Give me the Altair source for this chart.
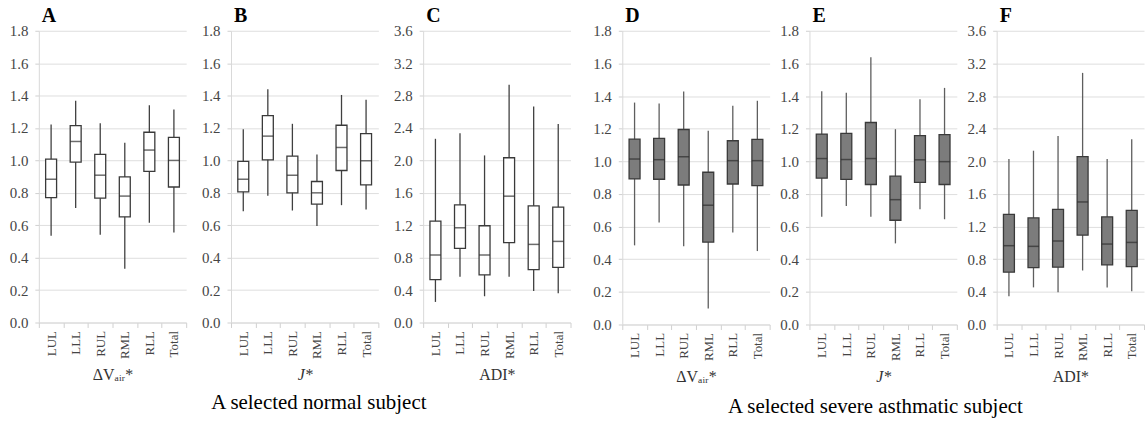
import altair as alt
import pandas as pd

LOBES = ["LUL", "LLL", "RUL", "RML", "RLL", "Total"]

# Y-axis tick values
TICKS_LOW = [0.0, 0.2, 0.4, 0.6, 0.8, 1.0, 1.2, 1.4, 1.6, 1.8]
TICKS_HIGH = [0.0, 0.4, 0.8, 1.2, 1.6, 2.0, 2.4, 2.8, 3.2, 3.6]

# --- A selected normal subject ---
# A: ΔVair*
A_MIN = [0.535, 0.706, 0.542, 0.332, 0.615, 0.556]
A_Q1 = [0.771, 0.990, 0.767, 0.652, 0.932, 0.836]
A_MED = [0.884, 1.117, 0.909, 0.780, 1.064, 1.000]
A_Q3 = [1.008, 1.215, 1.037, 0.898, 1.174, 1.142]
A_MAX = [1.222, 1.369, 1.230, 1.109, 1.340, 1.314]

# B: J*
B_MIN = [0.687, 0.782, 0.691, 0.595, 0.724, 0.697]
B_Q1 = [0.806, 1.004, 0.800, 0.730, 0.938, 0.849]
B_MED = [0.884, 1.150, 0.909, 0.800, 1.080, 0.998]
B_Q3 = [0.994, 1.277, 1.027, 0.870, 1.217, 1.166]
B_MAX = [1.193, 1.439, 1.226, 1.037, 1.404, 1.375]

# C: ADI*
C_MIN = [0.254, 0.566, 0.324, 0.566, 0.390, 0.361]
C_Q1 = [0.529, 0.915, 0.587, 0.985, 0.652, 0.681]
C_MED = [0.833, 1.169, 0.833, 1.559, 0.964, 1.001]
C_Q3 = [1.251, 1.452, 1.194, 2.033, 1.440, 1.424]
C_MAX = [2.267, 2.336, 2.062, 2.935, 2.665, 2.451]

# --- A selected severe asthmatic subject ---
# D: ΔVair*
D_MIN = [0.485, 0.625, 0.479, 0.098, 0.564, 0.450]
D_Q1 = [0.892, 0.890, 0.855, 0.505, 0.861, 0.851]
D_MED = [1.014, 1.010, 1.028, 0.731, 1.004, 1.004]
D_Q3 = [1.136, 1.140, 1.195, 0.933, 1.126, 1.134]
D_MAX = [1.360, 1.354, 1.428, 1.187, 1.340, 1.371]

# E: J*
E_MIN = [0.660, 0.726, 0.660, 0.497, 0.706, 0.645]
E_Q1 = [0.897, 0.889, 0.858, 0.639, 0.871, 0.858]
E_MED = [1.017, 1.011, 1.017, 0.765, 1.009, 0.998]
E_Q3 = [1.167, 1.171, 1.238, 0.909, 1.157, 1.163]
E_MAX = [1.430, 1.420, 1.638, 1.197, 1.380, 1.450]

# F: ADI*
F_MIN = [0.345, 0.455, 0.394, 0.662, 0.455, 0.406]
F_Q1 = [0.641, 0.698, 0.702, 1.096, 0.731, 0.710]
F_MED = [0.966, 0.958, 1.023, 1.502, 0.986, 1.006]
F_Q3 = [1.351, 1.307, 1.412, 2.058, 1.319, 1.400]
F_MAX = [2.029, 2.130, 2.310, 3.084, 2.029, 2.270]

SERIF = "Liberation Serif, Times New Roman, serif"


def panel(letter, lo, q1, med, q3, hi, axis_title, ticks, fill, whisker,
          height, title_style="normal"):
    df = pd.DataFrame({"lobe": LOBES, "lo": lo, "q1": q1, "med": med,
                       "q3": q3, "hi": hi})
    x = alt.X("lobe:N", sort=LOBES,
              scale=alt.Scale(paddingInner=0, paddingOuter=0),
              axis=alt.Axis(title=axis_title, labelAngle=270, tickBand="extent",
                            titleFontStyle=title_style))
    yscale = alt.Scale(domain=[0, ticks[-1]], nice=False)
    yaxis = alt.Axis(values=ticks, format=".1f", title=None)

    base = alt.Chart(df)
    whiskers = base.mark_rule(color=whisker, strokeWidth=1.3).encode(
        x=x, y=alt.Y("lo:Q", scale=yscale, axis=yaxis, title=None),
        y2="hi:Q")
    boxes = base.mark_bar(size=11, fill=fill, stroke="#3a3a3a",
                          strokeWidth=1.3).encode(
        x=x, y=alt.Y("q1:Q", scale=yscale, axis=yaxis, title=None),
        y2="q3:Q")
    medians = base.mark_tick(size=11, thickness=1.5, color="#2e2e2e").encode(
        x=x, y=alt.Y("med:Q", scale=yscale, axis=yaxis, title=None))

    return alt.layer(whiskers, boxes, medians).properties(
        width=148, height=height,
        title=alt.TitleParams(letter, anchor="start", frame="group", dx=3,
                              offset=-2, fontSize=20, fontWeight="bold",
                              font=SERIF, color="black"))


DV_TITLE = "ΔVₐᵢᵣ*"
J_TITLE = "J*"
ADI_TITLE = "ADI*"

NORMAL_FILL, NORMAL_WHISKER = "white", "#404040"
SEVERE_FILL, SEVERE_WHISKER = "#7c7c7c", "#5e5e5e"

normal = alt.HConcatChart(
    hconcat=[
        panel("A", A_MIN, A_Q1, A_MED, A_Q3, A_MAX, DV_TITLE, TICKS_LOW,
              NORMAL_FILL, NORMAL_WHISKER, 293),
        panel("B", B_MIN, B_Q1, B_MED, B_Q3, B_MAX, J_TITLE, TICKS_LOW,
              NORMAL_FILL, NORMAL_WHISKER, 293, "italic"),
        panel("C", C_MIN, C_Q1, C_MED, C_Q3, C_MAX, ADI_TITLE, TICKS_HIGH,
              NORMAL_FILL, NORMAL_WHISKER, 293),
    ],
    spacing=12,
    title=alt.TitleParams("A selected normal subject", orient="bottom",
                          anchor="middle", dx=30, offset=10, fontSize=21,
                          fontWeight="normal", font=SERIF, color="black"),
)

severe = alt.HConcatChart(
    hconcat=[
        panel("D", D_MIN, D_Q1, D_MED, D_Q3, D_MAX, DV_TITLE, TICKS_LOW,
              SEVERE_FILL, SEVERE_WHISKER, 295),
        panel("E", E_MIN, E_Q1, E_MED, E_Q3, E_MAX, J_TITLE, TICKS_LOW,
              SEVERE_FILL, SEVERE_WHISKER, 295, "italic"),
        panel("F", F_MIN, F_Q1, F_MED, F_Q3, F_MAX, ADI_TITLE, TICKS_HIGH,
              SEVERE_FILL, SEVERE_WHISKER, 295),
    ],
    spacing=7,
    title=alt.TitleParams("A selected severe asthmatic subject", orient="bottom",
                          anchor="middle", dx=8, offset=12, fontSize=21,
                          fontWeight="normal", font=SERIF, color="black"),
)

chart = (
    alt.hconcat(normal, severe, spacing=19)
    .properties(padding={"left": 7, "top": 5, "right": 0, "bottom": 0},
                background="white")
    .configure_view(stroke=None)
    .configure_axis(labelFont=SERIF, titleFont=SERIF, labelColor="#454545",
                    titleColor="#333333", titleFontWeight="normal",
                    titleFontSize=16, domainColor="#d9d9d9", gridColor="#dedede",
                    tickColor="#d0d0d0")
    .configure_axisY(labelFontSize=15, tickSize=4, labelPadding=7, grid=True,
                     minExtent=32, maxExtent=32)
    .configure_axisX(labelFontSize=13, tickSize=5, labelPadding=3,
                     titlePadding=8, grid=False)
)

chart.save("out.html", embed_options={"renderer": "svg", "actions": False})
